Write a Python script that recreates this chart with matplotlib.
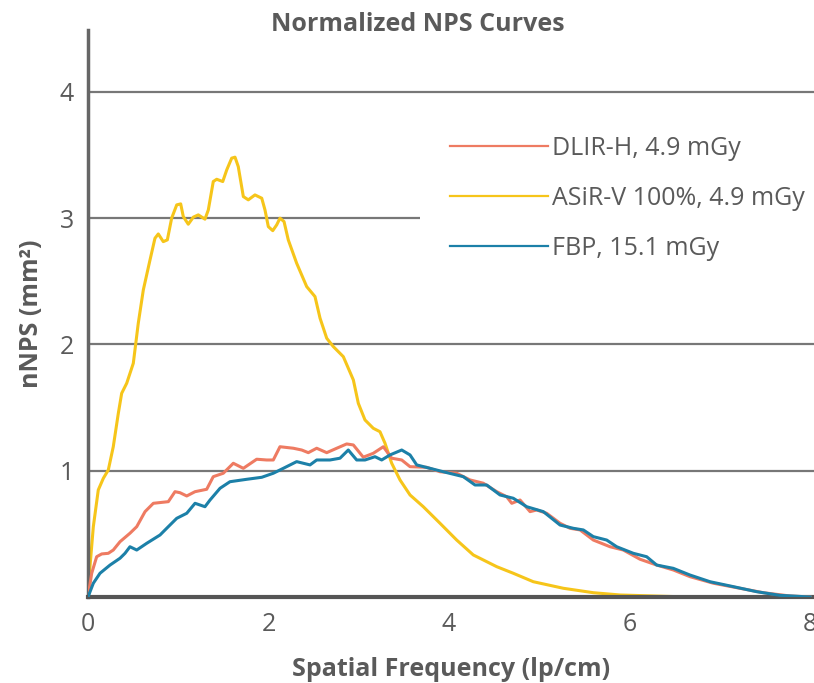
import numpy as np
import matplotlib
matplotlib.use("Agg")
import matplotlib.pyplot as plt

# Normalized NPS curves
labels = ["DLIR-H, 4.9 mGy", "ASiR-V 100%, 4.9 mGy", "FBP, 15.1 mGy"]
colors = ["#EE7B62", "#F6C51A", "#1C80A8"]

asir_x = [0, 0.022, 0.059, 0.114, 0.170, 0.225, 0.280, 0.336, 0.373, 0.429, 0.502, 0.557,
          0.613, 0.687, 0.742, 0.779, 0.834, 0.879, 0.927, 0.983, 1.027, 1.056, 1.111, 1.167,
          1.222, 1.296, 1.333, 1.388, 1.426, 1.493, 1.537, 1.592, 1.629, 1.665, 1.721, 1.776,
          1.850, 1.925, 1.961, 1.998, 2.047, 2.091, 2.127, 2.172, 2.219, 2.312, 2.423, 2.515,
          2.571, 2.645, 2.718, 2.829, 2.940, 2.995, 3.069, 3.161, 3.235, 3.291, 3.365, 3.457,
          3.568, 3.715, 3.900, 4.085, 4.269, 4.529, 4.712, 4.934, 5.267, 5.599, 5.895, 6.560,
          7.963, 8.0]
asir_y = [0, 0.24, 0.557, 0.848, 0.940, 1.006, 1.190, 1.455, 1.613, 1.693, 1.851, 2.168,
          2.432, 2.669, 2.841, 2.875, 2.814, 2.828, 3.000, 3.105, 3.113, 3.012, 2.952, 3.008,
          3.026, 2.992, 3.065, 3.290, 3.308, 3.290, 3.382, 3.475, 3.483, 3.408, 3.171, 3.145,
          3.184, 3.158, 3.065, 2.933, 2.901, 2.947, 3.000, 2.973, 2.828, 2.643, 2.458, 2.379,
          2.208, 2.049, 1.983, 1.903, 1.719, 1.534, 1.402, 1.336, 1.309, 1.217, 1.059, 0.927,
          0.808, 0.715, 0.584, 0.451, 0.333, 0.240, 0.188, 0.121, 0.069, 0.034, 0.016, 0.002,
          0, 0]

dlir_x = [0, 0.041, 0.096, 0.152, 0.225, 0.280, 0.355, 0.465, 0.540, 0.632, 0.724, 0.890,
          0.964, 1.019, 1.094, 1.186, 1.315, 1.388, 1.499, 1.610, 1.721, 1.869, 1.980, 2.053,
          2.127, 2.275, 2.368, 2.441, 2.534, 2.645, 2.756, 2.866, 2.940, 3.050, 3.161, 3.272,
          3.365, 3.476, 3.568, 3.753, 3.900, 4.085, 4.233, 4.380, 4.529, 4.639, 4.695, 4.787,
          4.898, 4.972, 5.082, 5.230, 5.341, 5.452, 5.599, 5.784, 5.931, 6.116, 6.301, 6.485,
          6.670, 6.929, 7.224, 7.483, 7.778, 8.0]
dlir_y = [0, 0.188, 0.319, 0.341, 0.346, 0.372, 0.438, 0.505, 0.557, 0.676, 0.742, 0.755,
          0.834, 0.826, 0.800, 0.834, 0.853, 0.953, 0.980, 1.059, 1.019, 1.091, 1.085, 1.085,
          1.190, 1.178, 1.164, 1.143, 1.178, 1.143, 1.178, 1.212, 1.204, 1.107, 1.138, 1.190,
          1.099, 1.085, 1.032, 1.027, 0.992, 0.980, 0.927, 0.901, 0.834, 0.794, 0.742, 0.768,
          0.676, 0.689, 0.663, 0.584, 0.544, 0.531, 0.451, 0.398, 0.372, 0.299, 0.253, 0.214,
          0.161, 0.109, 0.069, 0.034, 0.008, 0]

fbp_x = [0, 0.059, 0.133, 0.244, 0.355, 0.410, 0.465, 0.540, 0.650, 0.798, 0.890, 0.983,
         1.094, 1.186, 1.296, 1.352, 1.463, 1.573, 1.758, 1.925, 2.053, 2.164, 2.312, 2.460,
         2.534, 2.681, 2.792, 2.884, 2.977, 3.069, 3.180, 3.254, 3.346, 3.476, 3.568, 3.642,
         3.789, 3.975, 4.158, 4.288, 4.418, 4.565, 4.712, 4.861, 5.045, 5.230, 5.377, 5.488,
         5.599, 5.747, 5.858, 6.042, 6.190, 6.301, 6.485, 6.670, 6.892, 7.150, 7.409, 7.668,
         8.0]
fbp_y = [0, 0.109, 0.188, 0.253, 0.307, 0.346, 0.398, 0.372, 0.425, 0.491, 0.557, 0.623,
         0.663, 0.742, 0.715, 0.768, 0.861, 0.913, 0.932, 0.948, 0.980, 1.019, 1.072, 1.046,
         1.085, 1.085, 1.099, 1.164, 1.085, 1.085, 1.111, 1.085, 1.125, 1.164, 1.125, 1.046,
         1.019, 0.985, 0.953, 0.887, 0.887, 0.808, 0.782, 0.715, 0.676, 0.570, 0.544, 0.531,
         0.478, 0.451, 0.398, 0.346, 0.319, 0.253, 0.227, 0.174, 0.121, 0.082, 0.042, 0.013,
         0]

xticks = [0, 2, 4, 6, 8]
yticks = [1, 2, 3, 4]

plt.rcParams['font.family'] = ['Open Sans', 'DejaVu Sans']
text_col = "#5a5a5a"

fig = plt.figure(figsize=(8.14, 6.83), dpi=100)
ax = fig.add_axes([88/814, 86/683, 726/814, 567/683])

# grid lines (the one at 3 is hidden behind the legend box)
for y in yticks:
    ax.axhline(y, color="#777777", lw=1.6, zorder=1)

ax.plot(dlir_x, dlir_y, color=colors[0], lw=2.2, label=labels[0], zorder=3)
ax.plot(asir_x, asir_y, color=colors[1], lw=2.2, label=labels[1], zorder=2)
ax.plot(fbp_x, fbp_y, color=colors[2], lw=2.2, label=labels[2], zorder=4)

ax.set_xlim(0, 8.044)
ax.set_ylim(0, 4.49)
ax.set_xticks(xticks)
ax.set_yticks(yticks)
ax.tick_params(length=0, labelsize=18, colors=text_col)
ax.tick_params(axis='x', pad=11)
ax.tick_params(axis='y', pad=10)

for s in ["top", "right"]:
    ax.spines[s].set_visible(False)
ax.spines["left"].set_color("#666666")
ax.spines["left"].set_linewidth(2.5)
ax.spines["bottom"].set_color("#555555")
ax.spines["bottom"].set_linewidth(3)

fig.text(418/814, 1 - 31/683, "Normalized NPS Curves", fontsize=18, fontweight="bold",
         color=text_col, ha="center", va="baseline")
ax.set_xlabel("Spatial Frequency (lp/cm)", fontsize=18, fontweight="bold", color=text_col, labelpad=14)
ax.set_ylabel("nNPS (mm²)", fontsize=18, fontweight="bold", color=text_col, labelpad=11)

leg = ax.legend(loc="upper left", bbox_to_anchor=(420/814, 1 - 106/683),
                bbox_transform=fig.transFigure, fontsize=18, frameon=True,
                facecolor="white", edgecolor="none", framealpha=1, fancybox=False,
                borderaxespad=0, borderpad=1.2, handlelength=3.9, handletextpad=0.2,
                labelspacing=1.0)
for t in leg.get_texts():
    t.set_color(text_col)
for h in leg.get_lines():
    h.set_linewidth(1.6)

fig.savefig("out.png", dpi=100)
